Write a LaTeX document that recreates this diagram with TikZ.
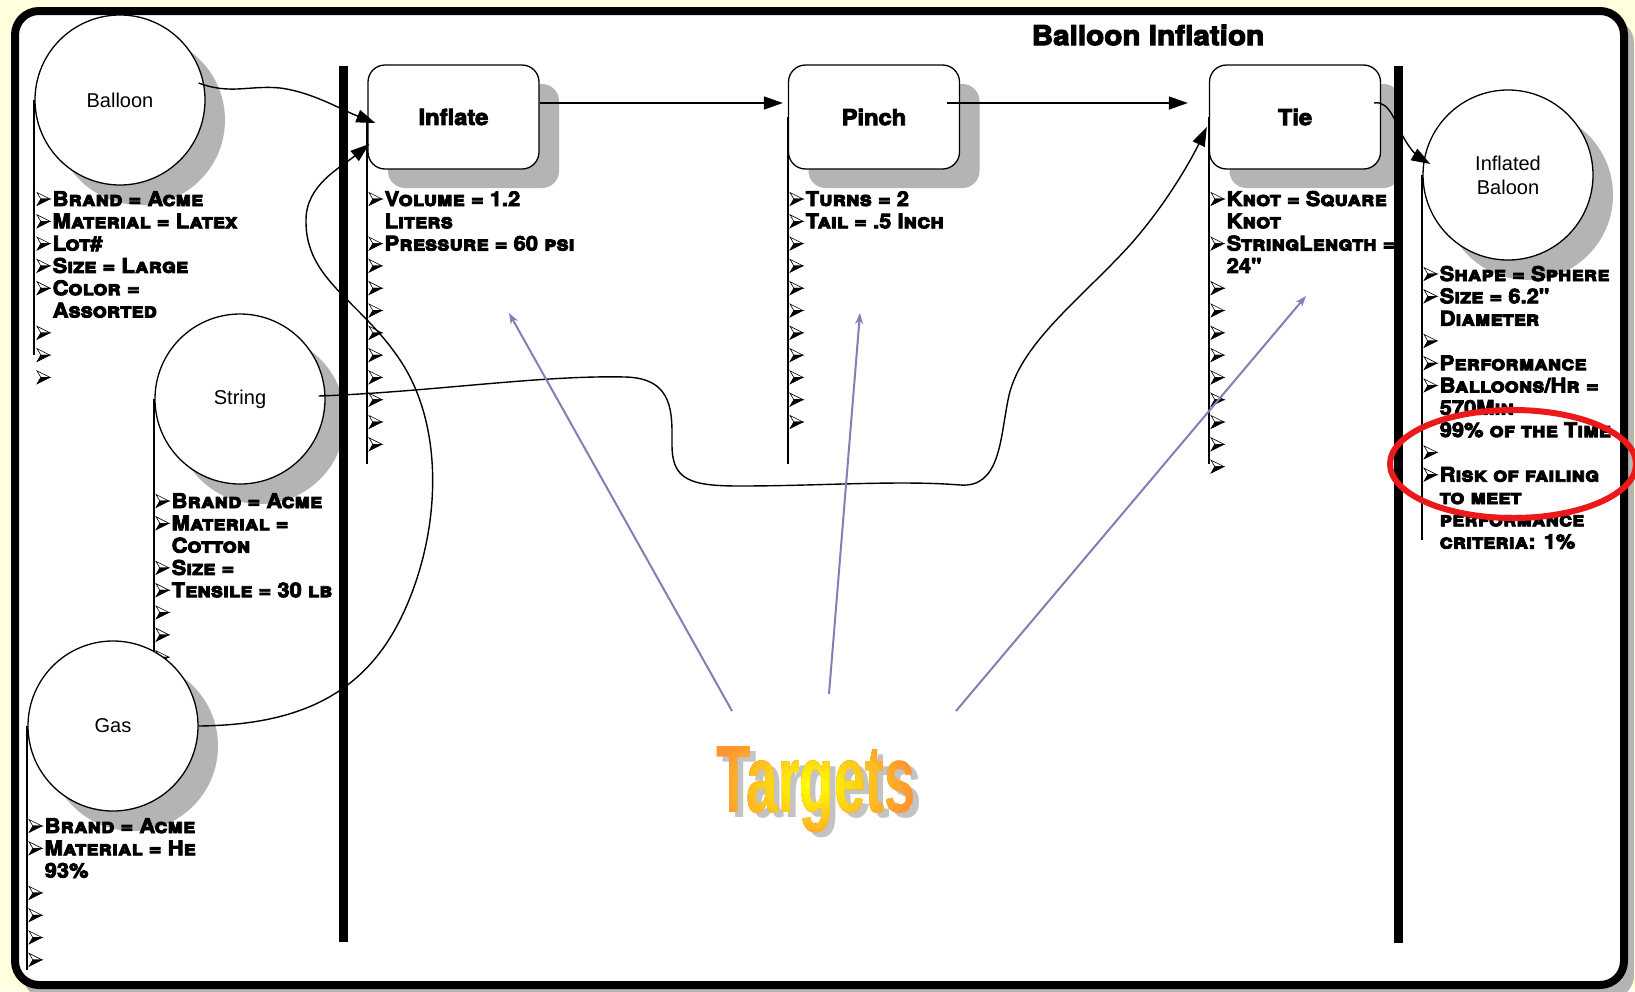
\documentclass[tikz,border=0pt]{standalone}
\usepackage{fontspec}
\setmainfont{Liberation Sans}
\newfontfamily\heavyfont{TeX Gyre Heros}[FakeBold=4,FakeStretch=1.08]
\newfontfamily\wordartfont{Liberation Sans}[FakeStretch=0.585]
\usetikzlibrary{arrows.meta,calc}

\definecolor{pagebg}{RGB}{255,255,221}
\definecolor{shadowgray}{RGB}{180,180,180}
\definecolor{targetblue}{RGB}{128,128,180}
\definecolor{wordorange}{RGB}{255,150,50}
\definecolor{wordyellow}{RGB}{255,255,0}
\definecolor{wordshadow}{RGB}{195,195,195}
\definecolor{markred}{RGB}{235,25,25}

\pgfdeclarelayer{backdrop}
\pgfdeclarelayer{lists}
\pgfdeclarelayer{front}
\pgfsetlayers{backdrop,lists,main,front}

\tikzset{
  circ/.style={circle, draw, line width=1.3pt, fill=white, minimum size=170pt, inner sep=0pt,
    align=center, font=\fontsize{20}{24}\selectfont},
  circsh/.style={circle, fill=shadowgray, minimum size=170pt, inner sep=0pt},
  proc/.style={rectangle, rounded corners=17pt, draw, line width=1.3pt, fill=white,
    minimum width=171pt, minimum height=104pt, inner sep=0pt,
    font=\heavyfont\bfseries\fontsize{22}{26}\selectfont},
  procsh/.style={rectangle, rounded corners=17pt, fill=shadowgray,
    minimum width=171pt, minimum height=104pt, inner sep=0pt},
  lane/.style={line width=9pt},
  listline/.style={line width=2.2pt},
  lst/.style={anchor=base west, inner sep=0pt,
    font=\heavyfont\bfseries\scshape\fontsize{20.3}{22}\selectfont},
  flow/.style={line width=1.4pt, -{Triangle[length=19pt,width=13pt]}},
  target/.style={draw=targetblue, line width=2pt, -{Stealth[length=11pt,width=8pt]}},
  wordart/.style={inner sep=0pt, anchor=base, font=\wordartfont\bfseries\fontsize{96}{96}\selectfont},
  bul/.pic={
    \filldraw[fill=white, draw=black, line width=0.6pt] (0,-6.5) -- (13,0) -- (3.8,0) -- cycle;
    \filldraw[fill=black, draw=black, line width=0.6pt] (0,6.5) -- (13,0) -- (3.8,0) -- cycle;
  }
}

% property list: name, x of the list line, centre of first row, rows (kind/text)
% kind 0 = text only, 1 = bullet and text, 2 = bullet only
\newcommand\proplist[4]{%
  \foreach \kind/\txt [count=\i] in {#4}{%
    \pgfmathsetmacro\rowy{#3+(\i-1)*22.3}%
    \ifnum\kind>0 \pic at (#2+1,\rowy) {bul};\fi
    \ifnum\kind<2 \node[lst] (#1-\i) at (#2+16.5,\rowy+7) {\txt};\fi
  }%
}

\begin{document}
\begin{tikzpicture}[x=1pt,y=-1pt]
\useasboundingbox (0,0) rectangle (1635,991);

% page, frame and drop shadows
\begin{pgfonlayer}{backdrop}
  \fill[pagebg] (0,0) rectangle (1635,991);
  \fill[shadowgray, rounded corners=24pt] (23,19) rectangle (1634,999);
  \draw[line width=8pt, fill=white, rounded corners=24pt] (15,11) rectangle (1624,985);
  \node[circsh] (balloon-sh) at (140,120) {};
  \node[circsh] (string-sh) at (260,419) {};
  \node[circsh] (gas-sh) at (133,746) {};
  \node[circsh] (inflated-sh) at (1528,195) {};
  \node[procsh] (inflate-sh) at (473.5,136) {};
  \node[procsh] (pinch-sh) at (894,136) {};
  \node[procsh] (tie-sh) at (1315,136) {};
\end{pgfonlayer}

% title
\node[font=\heavyfont\bfseries\fontsize{27.5}{30}\selectfont] (title) at (1148,35) {Balloon Inflation};

% inputs, steps and output
\node[circ] (balloon) at (120,100) {Balloon};
\node[circ] (string) at (240,399) {String};
\node[circ] (gas) at (113,726) {Gas};
\node[circ] (inflated) at (1508,175) {Inflated\\Baloon};
\node[proc] (inflate) at (453.5,117) {Inflate};
\node[proc] (pinch) at (874,117) {Pinch};
\node[proc] (tie) at (1295,117) {Tie};

% property lists
\begin{pgfonlayer}{lists}
  \draw[listline] (balloon.west) -- ++(0,255);
  \draw[listline] (string.west) -- ++(0,256);
  \draw[listline] (gas.west) -- ++(0,244);
  \draw[listline] (inflate.west) -- ++(0,347);
  \draw[listline] (pinch.west) -- ++(0,347);
  \draw[listline] (tie.west) -- ++(0,347);
  \draw[listline] (inflated.west) -- ++(0,365);

  \proplist{bl}{36}{199}{1/{Brand = Acme},1/{Material = Latex},1/{Lot\#},1/{Size = Large},
    1/{Color =},0/{Assorted},2/{},2/{},2/{}}
  \proplist{sl}{155}{501}{1/{Brand = Acme},1/{Material =},0/{Cotton},1/{Size =},
    1/{Tensile = 30 lb},2/{},2/{},2/{}}
  \proplist{gl}{28}{826}{1/{Brand = Acme},1/{Material = He},0/{93\%},2/{},2/{},2/{},2/{}}
  \proplist{il}{368}{199}{1/{Volume = 1.2},0/{Liters},1/{Pressure = 60 psi},
    2/{},2/{},2/{},2/{},2/{},2/{},2/{},2/{},2/{}}
  \proplist{pl}{789}{199}{1/{Turns = 2},1/{Tail = .5 Inch},
    2/{},2/{},2/{},2/{},2/{},2/{},2/{},2/{},2/{}}
  \proplist{tl}{1210}{199}{1/{Knot = Square},0/{Knot},1/{StringLength =},0/{24"},
    2/{},2/{},2/{},2/{},2/{},2/{},2/{},2/{},2/{}}
  \proplist{ol}{1423}{274}{1/{Shape = Sphere},1/{Size = 6.2"},0/{Diameter},2/{},
    1/{Performance},1/{Balloons/Hr =},0/{570Min},0/{99\% of the Time},2/{},
    1/{Risk of failing},0/{to meet},0/{performance},0/{criteria: 1\%}}
\end{pgfonlayer}

\begin{pgfonlayer}{front}
  % swimlane dividers
  \draw[lane] (343,66) -- (343,942);
  \draw[lane] (1398,66) -- (1398,943);

  % material flow
  \draw[flow] ($(balloon.east)+(-7,-17)$) .. controls (230,95) and (250,85) .. (280,88)
    .. controls (312,92) and (342,110) .. ($(inflate.west)+(8,6)$);
  \draw[flow] (gas.east) .. controls (290,725) and (360,700) .. (400,620)
    .. controls (440,540) and (447,430) .. (400,360)
    .. controls (360,300) and (305,280) .. (306,220)
    .. controls (306,185) and (340,168) .. ($(inflate.west)+(2,27)$);
  \draw[flow] ($(string.east)+(-7,-3)$) .. controls (430,392) and (540,375) .. (625,377)
    .. controls (675,378) and (672,415) .. (672,445)
    .. controls (672,480) and (690,486) .. (740,486)
    .. controls (820,486) and (900,480) .. (960,485)
    .. controls (1000,488) and (1000,440) .. (1008,400)
    .. controls (1018,345) and (1080,300) .. (1130,245)
    .. controls (1170,200) and (1195,152) .. ($(tie.west)+(-2,10)$);
  \draw[flow] ($(inflate.east)+(0,-14)$) -- ($(pinch.west)+(-5,-14)$);
  \draw[flow] ($(pinch.east)+(-13,-14)$) -- ($(tie.west)+(-21,-14)$);
  \draw[flow] ($(tie.east)+(-7,-14)$) .. controls (1390,100) and (1396,125) .. (1405,140)
    .. controls (1412,152) and (1420,158) .. ($(inflated.west)+(8,-11)$);

  % targets
  \coordinate (from1) at (732,711);
  \coordinate (from2) at (829,694);
  \coordinate (from3) at (956,711);
  \coordinate (aim1) at (509,313);
  \coordinate (aim2) at (860,313);
  \coordinate (aim3) at (1306,296);
  \draw[target] (from1) -- (aim1);
  \draw[target] (from2) -- (aim2);
  \draw[target] (from3) -- (aim3);

  % word art: grey drop shadow, orange letters brightening to yellow towards the middle
  \node[wordart, text=wordshadow] (targets-shadow) at (822,817) {Targets};
  \node[wordart, text=wordorange] (targets) at (816,812) {Targets};
  \foreach \i in {1,...,12}{
    \begin{scope}
      \pgfmathsetmacro\rr{105*(1-\i/13)}
      \pgfmathtruncatemacro\mixv{100*\i/12}
      \clip (812,785) ellipse [x radius=\rr, y radius=\rr*0.6];
      \node[wordart, text=wordyellow!\mixv!wordorange] (targets-\i) at (816,812) {Targets};
    \end{scope}
  }

  % risk highlight
  \draw[markred, line width=6pt] (1513,464) ellipse [x radius=123, y radius=54];
\end{pgfonlayer}
\end{tikzpicture}
\end{document}
